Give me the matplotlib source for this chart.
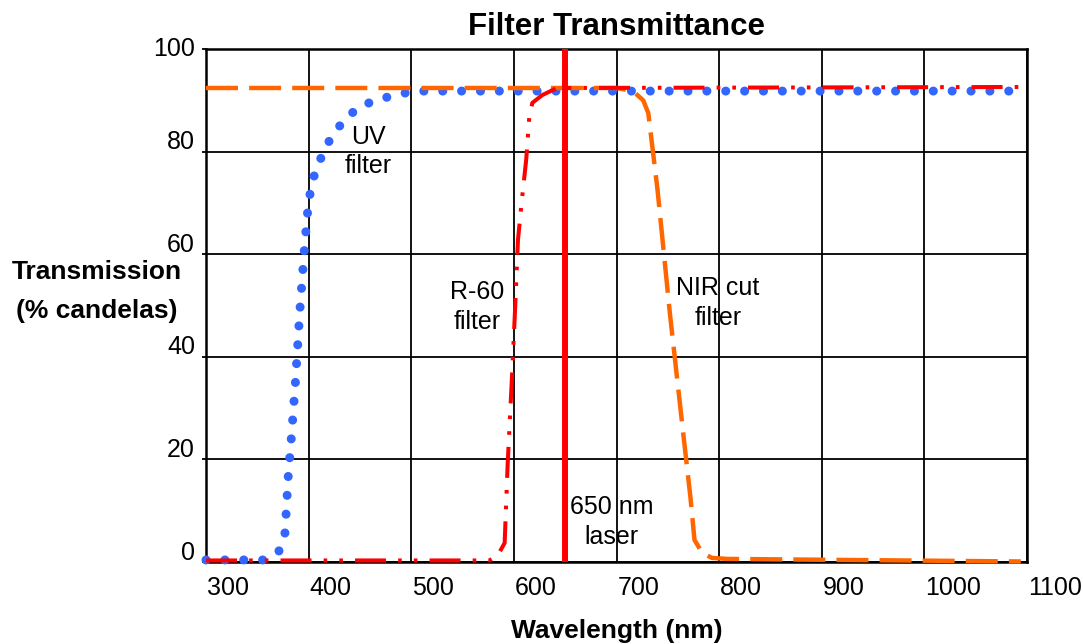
import matplotlib
matplotlib.use("Agg")
import matplotlib.pyplot as plt
from matplotlib.transforms import ScaledTranslation

plt.rcParams['font.family'] = ['Liberation Sans', 'DejaVu Sans']

# values
uv_nm = [300, 356, 371, 377, 380, 383, 387, 391.5, 395.5, 398.5, 400.5, 404,
         410, 417, 427, 438, 453, 471, 487, 506, 1088]
uv_pct = [0.4, 0.4, 2.1, 5.7, 16.4, 23.8, 34.7, 49.1, 60, 67.3, 70.8, 74.5,
          77.8, 81.1, 84.2, 86.9, 89.1, 90.3, 91.2, 91.8, 91.8]

r60_nm = [300, 576, 584, 591, 594, 598, 601, 604, 608, 612, 615, 618, 627.5, 642, 1100]
r60_pct = [0.3, 0.3, 1.2, 3.7, 19.3, 35.5, 48.5, 62.8, 71, 78.4, 86.7, 89.5, 91, 92.4, 92.6]

nir_nm = [300, 700, 716, 726, 731, 740, 752, 765, 772, 776, 783.5, 793, 808, 1094]
nir_pct = [92.4, 92.4, 91.8, 90, 87.5, 72.5, 48.5, 25.1, 12.7, 4.3, 1.8, 0.8, 0.6, 0.1]

laser_nm = 650

x_ticks = [300, 400, 500, 600, 700, 800, 900, 1000, 1100]
y_ticks = [0, 20, 40, 60, 80, 100]

fig = plt.figure(figsize=(10.83, 6.44), dpi=100)
ax = fig.add_axes([206 / 1083, 82 / 644, 821 / 1083, 513 / 644])

ax.plot(uv_nm, uv_pct, color='#3366FF', lw=6.5, linestyle=(0, (0.01, 2.08)),
        dash_capstyle='round', clip_on=False, zorder=3)
ax.plot(nir_nm, nir_pct, color='#FF6600', lw=3.2, linestyle=(0, (7.2, 2.5)),
        clip_on=False, zorder=4)
ax.plot(r60_nm, r60_pct, color='#FF0000', lw=2.9,
        linestyle=(0, (7.7, 3, 0.9, 3, 0.9, 3)), clip_on=False, zorder=5)
ax.axvline(laser_nm, color='#FF0000', lw=4.3, zorder=6)

ax.set_xlim(300, 1100)
ax.set_ylim(0, 100)
ax.set_xticks(x_ticks)
ax.set_yticks(y_ticks)
ax.set_xticklabels([str(v) for v in x_ticks], ha='left')
ax.set_yticklabels([str(v) for v in y_ticks])
ax.tick_params(axis='x', length=0, pad=10, labelsize=18)
ax.tick_params(axis='y', length=3, width=1.3, pad=5, labelsize=18)

dx = ScaledTranslation(1 / 100, 0, fig.dpi_scale_trans)
for lab in ax.get_xticklabels():
    lab.set_transform(lab.get_transform() + dx)
for v, lab in zip(y_ticks, ax.get_yticklabels()):
    up = 3 if v == 100 else 12
    lab.set_transform(lab.get_transform() + ScaledTranslation(0, up / 100, fig.dpi_scale_trans))

ax.grid(True, color='black', lw=1.3)
ax.set_axisbelow(True)
for s in ax.spines.values():
    s.set_linewidth(1.8)

ax.set_title('Filter Transmittance', fontsize=22.5, fontweight='bold', pad=10)
fig.text(617 / 1083, 1 - 631 / 644, 'Wavelength (nm)', fontsize=19,
         fontweight='bold', ha='center', va='center')
fig.text(97 / 1083, 1 - 272 / 644, 'Transmission', fontsize=19,
         fontweight='bold', ha='center', va='center')
fig.text(97 / 1083, 1 - 311 / 644, '(% candelas)', fontsize=19,
         fontweight='bold', ha='center', va='center')

ax.text(458, 80, 'UV\nfilter', fontsize=18, ha='center', va='center', linespacing=1.3)
ax.text(564, 49.7, 'R-60\nfilter', fontsize=18, ha='center', va='center', linespacing=1.3)
ax.text(799, 50.5, 'NIR cut\nfilter', fontsize=18, ha='center', va='center', linespacing=1.3)
ax.text(695, 7.8, '650 nm\nlaser', fontsize=18, ha='center', va='center', linespacing=1.3)

fig.savefig('out.png', dpi=100)
